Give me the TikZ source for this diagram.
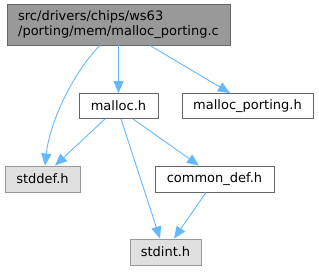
\documentclass[tikz,border=0pt]{standalone}
\usepackage{fontspec}
\setmainfont{DejaVu Sans}
\usetikzlibrary{arrows.meta}
\definecolor{edgec}{HTML}{63B8FF}
\definecolor{grayfill}{HTML}{999999}
\definecolor{darkb}{HTML}{666666}
\definecolor{lightfill}{HTML}{E0E0E0}
\begin{document}
\begin{tikzpicture}[x=1pt,y=-1pt,
  box/.style={draw=darkb,fill=white,line width=0.9pt,inner sep=0pt,font=\fontsize{13}{15}\selectfont},
  sysbox/.style={box,draw=grayfill,fill=lightfill},
  topbox/.style={box,fill=grayfill},
  edge/.style={draw=edgec,line width=0.9pt,-{Triangle[length=12pt,width=10pt]}}]
\useasboundingbox (0,0) rectangle (319,271);
\node[topbox,minimum width=223pt,minimum height=41pt,align=left] (top) at (118.5,24.5) {src/drivers/chips/ws63\\/porting/mem/malloc\_porting.c};
\node[box,minimum width=79pt,minimum height=25pt] (mallocH) at (118.5,106) {malloc.h};
\node[box,minimum width=131pt,minimum height=25pt] (mport) at (247.5,106) {malloc\_porting.h};
\node[sysbox,minimum width=75pt,minimum height=26pt] (stddef) at (42.5,179) {stddef.h};
\node[box,minimum width=119pt,minimum height=26pt] (common) at (214.5,179) {common\_def.h};
\node[sysbox,minimum width=71pt,minimum height=26pt] (stdint) at (165.5,252) {stdint.h};
\draw[edge] ([xshift=-18.5pt]top.south) .. controls (75,70) and (50,120) .. ([xshift=2.5pt]stddef.north);
\draw[edge] (top.south) -- (mallocH.north);
\draw[edge] ([xshift=31.5pt]top.south) -- ([xshift=-17.5pt]mport.north);
\draw[edge] ([xshift=-13.5pt]mallocH.south) -- ([xshift=12.5pt]stddef.north);
\draw[edge] ([xshift=2.5pt]mallocH.south) -- ([xshift=-5.5pt]stdint.north);
\draw[edge] ([xshift=14.5pt]mallocH.south) -- ([xshift=-15.5pt]common.north);
\draw[edge] ([xshift=-8.5pt]common.south) -- ([xshift=8.5pt]stdint.north);
\end{tikzpicture}
\end{document}
